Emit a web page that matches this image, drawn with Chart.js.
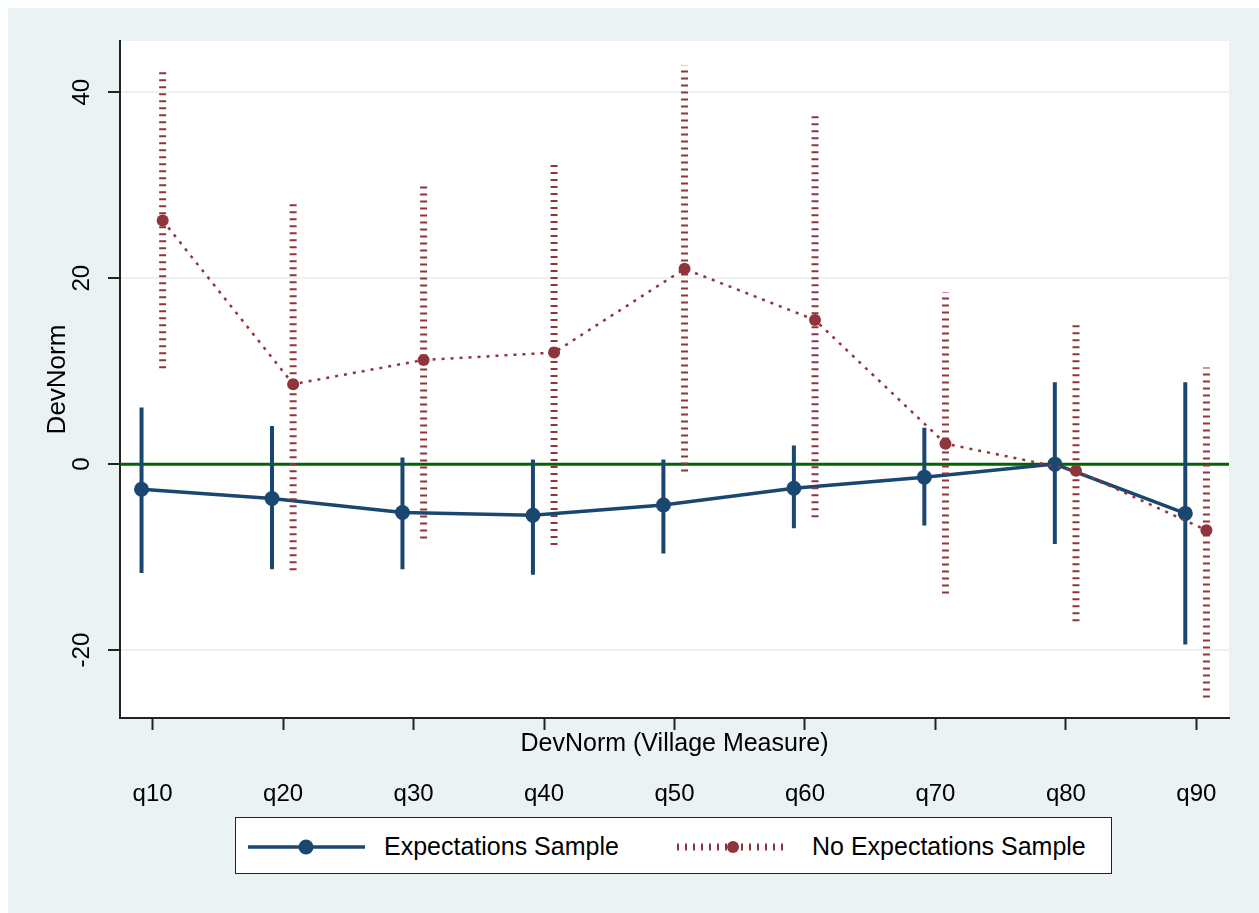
<!DOCTYPE html>
<html>
<head>
<meta charset="utf-8">
<script src="https://cdn.jsdelivr.net/npm/chart.js@4/dist/chart.umd.min.js"></script>
<style>
  html, body { margin: 0; padding: 0; background: #ffffff; }
  #frame { position: absolute; left: 8px; top: 8px; width: 1251px; height: 905px; background: #eaf2f3; }
  #chart { position: absolute; left: 0; top: 0; }
  #legend { position: absolute; left: 227px; top: 809px; width: 875px; height: 55px;
            background: #ffffff; border: 1.5px solid #222; box-sizing: content-box; }
  #legend svg { position: absolute; left: 0; top: 0; }
  #legend span { position: absolute; top: 13px; line-height: 30px; font-family: "Liberation Sans", Arial, sans-serif;
                 font-size: 25px; color: #000; white-space: nowrap; }
</style>
</head>
<body>
<div id="frame">
  <canvas id="chart" width="1251" height="905"></canvas>
  <div id="legend">
    <svg width="875" height="55">
      <line x1="12" y1="29" x2="129" y2="29" stroke="#1a476f" stroke-width="3.5"/>
      <circle cx="70" cy="29" r="7.5" fill="#1a476f"/>
      <line x1="441" y1="29" x2="553" y2="29" stroke="#90353b" stroke-width="7" stroke-dasharray="2 6"/>
      <circle cx="497" cy="29" r="6" fill="#90353b"/>
    </svg>
    <span style="left:148px">Expectations Sample</span>
    <span style="left:576px">No Expectations Sample</span>
  </div>
</div>
<script>
// Quantile groups of the village-level DevNorm measure
const categories = ['q10', 'q20', 'q30', 'q40', 'q50', 'q60', 'q70', 'q80', 'q90'];

// Expectations sample: point estimates and 95% interval bounds
const expEst = [-2.7, -3.7, -5.2, -5.5, -4.4, -2.6, -1.4, 0.0, -5.3];
const expLo  = [-11.7, -11.3, -11.3, -11.9, -9.6, -6.9, -6.6, -8.6, -19.4];
const expHi  = [6.1, 4.1, 0.7, 0.5, 0.5, 2.0, 3.9, 8.8, 8.8];

// No expectations sample: point estimates and 95% interval bounds
const noExpEst = [26.2, 8.6, 11.2, 12.0, 21.0, 15.5, 2.2, -0.7, -7.1];
const noExpLo  = [10.3, -11.4, -8.0, -8.7, -0.8, -5.7, -13.9, -16.9, -25.1];
const noExpHi  = [42.2, 28.3, 30.2, 32.4, 42.9, 37.8, 18.5, 15.4, 10.4];

// Axis ticks and reference line
const yTicks = [-20, 0, 20, 40];
const refLineY = 0;

// Horizontal dodge so the two samples do not overlap
const expShift = -0.085;
const noExpShift = 0.077;
const xMin = 0.75, xMax = 9.25;
const yMin = -27.3, yMax = 45.5;

const NAVY = '#1a476f';
const MAROON = '#90353b';
const AXIS = '#222222';
const FONT = '"Liberation Sans", Arial, sans-serif';

function estPoints(est, shift) {
  return est.map((v, i) => ({ x: i + 1 + shift, y: v }));
}
function ciSegments(lo, hi, shift) {
  const pts = [];
  lo.forEach((l, i) => {
    const x = i + 1 + shift;
    pts.push({ x: x, y: l }, { x: x, y: hi[i] }, { x: x, y: null });
  });
  return pts;
}

const plotBackground = {
  id: 'plotBackground',
  beforeDraw(chart) {
    const { ctx, chartArea: a } = chart;
    ctx.save();
    ctx.fillStyle = '#ffffff';
    ctx.fillRect(a.left, a.top, a.right - a.left, a.bottom - a.top);
    ctx.restore();
  }
};

const tickPositions = categories.map((c, i) => ({ value: i + 1 }));

new Chart(document.getElementById('chart'), {
  type: 'line',
  data: {
    datasets: [
      {
        label: 'No Expectations Sample',
        data: estPoints(noExpEst, noExpShift),
        borderColor: MAROON, backgroundColor: MAROON,
        borderWidth: 2.5, borderDash: [3, 6],
        pointRadius: 6, pointBackgroundColor: MAROON, pointBorderWidth: 0,
        order: 1
      },
      {
        label: 'No Expectations CI',
        data: ciSegments(noExpLo, noExpHi, noExpShift),
        borderColor: MAROON, borderWidth: 7, borderDash: [2, 5], borderCapStyle: 'butt',
        pointRadius: 0, spanGaps: false,
        order: 2
      },
      {
        label: 'Expectations Sample',
        data: estPoints(expEst, expShift),
        borderColor: NAVY, backgroundColor: NAVY,
        borderWidth: 3.5,
        pointRadius: 7.5, pointBackgroundColor: NAVY, pointBorderWidth: 0,
        order: 3
      },
      {
        label: 'Expectations CI',
        data: ciSegments(expLo, expHi, expShift),
        borderColor: NAVY, borderWidth: 4, borderCapStyle: 'butt',
        pointRadius: 0, spanGaps: false,
        order: 4
      },
      {
        label: 'Reference',
        data: [{ x: xMin, y: refLineY }, { x: xMax, y: refLineY }],
        borderColor: '#006400', borderWidth: 3,
        pointRadius: 0,
        order: 5
      }
    ]
  },
  options: {
    responsive: false,
    animation: false,
    devicePixelRatio: 1,
    events: [],
    layout: { padding: { left: 0, top: 33, right: 30, bottom: 104 } },
    plugins: { legend: { display: false }, tooltip: { enabled: false } },
    scales: {
      x: {
        type: 'linear', position: 'bottom', min: xMin, max: xMax, weight: 0,
        afterBuildTicks: s => { s.ticks = tickPositions.map(t => ({ value: t.value })); },
        afterFit: s => { s.height = 41; },
        grid: { drawOnChartArea: false, drawTicks: true, tickLength: 12, tickColor: AXIS, tickWidth: 2 },
        border: { display: true, color: AXIS, width: 2 },
        ticks: { display: false },
        title: { display: true, text: 'DevNorm (Village Measure)', color: '#000',
                 font: { family: FONT, size: 25 }, padding: { top: 0, bottom: 0 } }
      },
      x2: {
        type: 'linear', axis: 'x', position: 'bottom', min: xMin, max: xMax, weight: 1,
        afterBuildTicks: s => { s.ticks = tickPositions.map(t => ({ value: t.value })); },
        afterFit: s => { s.height = 50; },
        grid: { display: false },
        border: { display: false },
        ticks: {
          padding: 13, color: '#000', font: { family: FONT, size: 24 }, maxRotation: 0, autoSkip: false,
          callback: v => categories[Math.round(v) - 1]
        }
      },
      y: {
        type: 'linear', min: yMin, max: yMax,
        afterBuildTicks: s => { s.ticks = yTicks.map(v => ({ value: v })); },
        afterFit: s => { s.width = 112; },
        grid: { color: '#eaf2f3', lineWidth: 2, drawTicks: true, tickLength: 12, tickColor: AXIS, tickWidth: 2 },
        border: { display: true, color: AXIS, width: 2 },
        ticks: {
          minRotation: 90, maxRotation: 90, crossAlign: 'center', padding: 8,
          color: '#000', font: { family: FONT, size: 24 },
          callback: v => String(v)
        },
        title: { display: true, text: 'DevNorm', color: '#000',
                 font: { family: FONT, size: 26 }, padding: { top: 34, bottom: 0 } }
      }
    }
  },
  plugins: [plotBackground]
});
</script>
</body>
</html>
